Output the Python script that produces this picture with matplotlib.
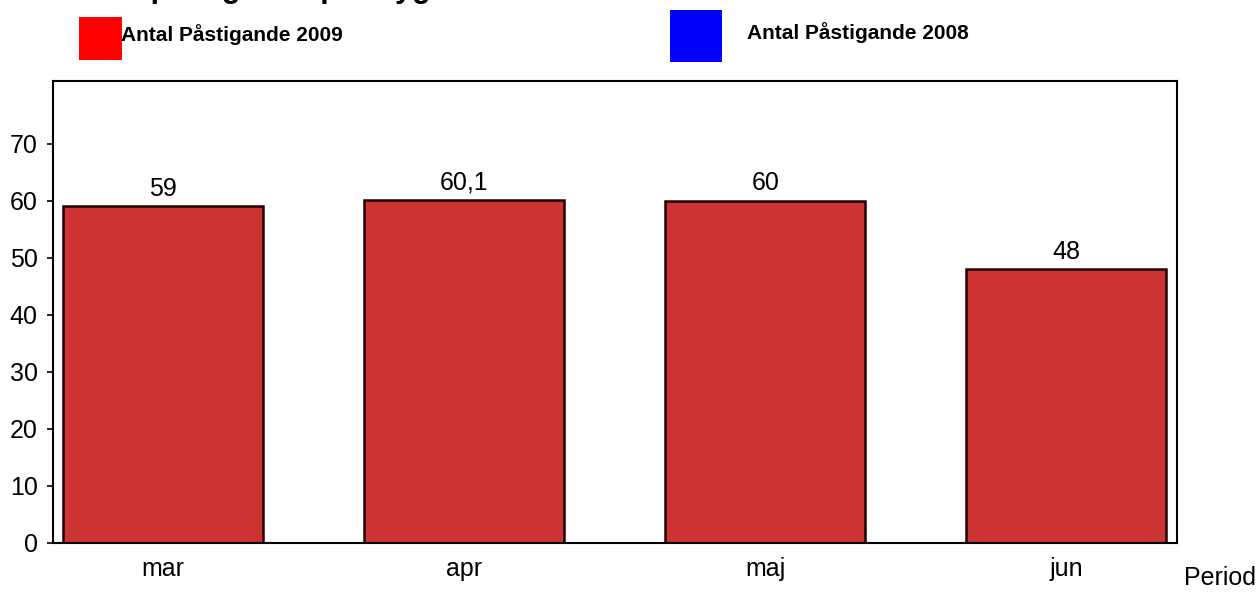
import matplotlib.pyplot as plt
from matplotlib.patches import Rectangle

plt.rcParams["font.family"] = ["Liberation Sans", "DejaVu Sans"]

months = ["mar", "apr", "maj", "jun"]
pastigande_2009 = [59, 60.1, 60, 48]
value_labels = ["59", "60,1", "60", "48"]
legend_labels = ["Antal Påstigande 2009", "Antal Påstigande 2008"]
legend_colors = ["#FF0000", "#0000FF"]

W, H = 1258, 599
fig = plt.figure(figsize=(W / 100, H / 100), dpi=100)
ax = fig.add_axes([53 / W, 56 / H, 1124 / W, 462 / H])

x = list(range(len(months)))
bars = ax.bar(x, pastigande_2009, width=0.664, color="#CC3333",
              edgecolor="#200000", linewidth=1.8)
for b, lab in zip(bars, value_labels):
    ax.annotate(lab, (b.get_x() + b.get_width() / 2, b.get_height()),
                xytext=(0, 4), textcoords="offset points",
                ha="center", va="bottom", fontsize=18)

ax.set_xlim(-0.365, 3.367)
ax.set_ylim(0, 81)
ax.set_yticks(range(0, 71, 10))
ax.set_xticks(x)
ax.set_xticklabels(months)
ax.tick_params(axis="y", labelsize=18, length=4, width=1.2, direction="out", pad=7)
ax.tick_params(axis="x", labelsize=18, length=0, pad=10)
for s in ax.spines.values():
    s.set_linewidth(1.5)
    s.set_color("black")

# legend drawn by hand (squares + bold text)
fig.add_artist(Rectangle((79 / W, 1 - 60 / H), 43 / W, 43 / H,
                         transform=fig.transFigure, color=legend_colors[0], lw=0))
fig.text(121 / W, 1 - 35 / H, legend_labels[0], fontsize=15, fontweight="bold",
         va="center", ha="left")
fig.add_artist(Rectangle((670 / W, 1 - 62 / H), 52 / W, 52 / H,
                         transform=fig.transFigure, color=legend_colors[1], lw=0))
fig.text(747 / W, 1 - 33 / H, legend_labels[1], fontsize=15, fontweight="bold",
         va="center", ha="left")

# title cut off at the top of the image
fig.text(66 / W, 1 + 3 / H, "Antal påstigande per dygn", fontsize=22,
         fontweight="bold", va="baseline", ha="left")

fig.text(1256 / W, 1 - 578 / H, "Period", fontsize=18, ha="right", va="center")

fig.savefig("out.png", dpi=100)
